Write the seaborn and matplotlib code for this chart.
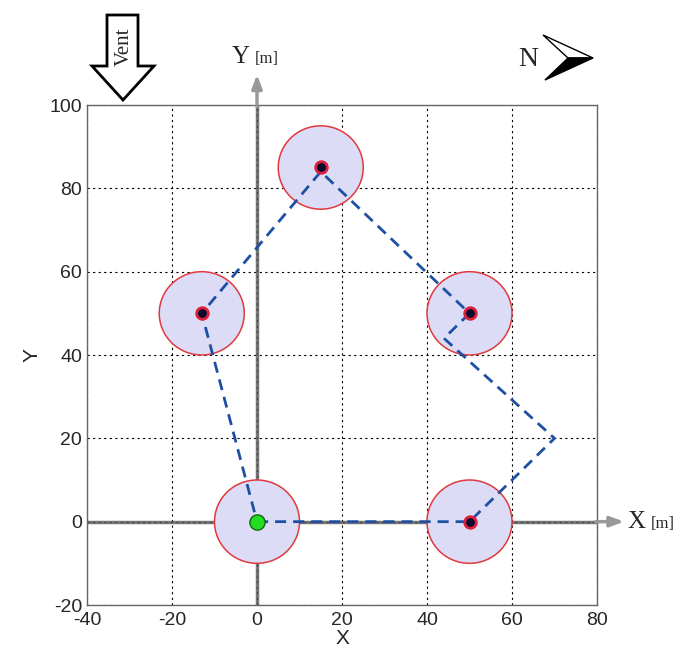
"""Trajectoire du drone entre les points de passage (vue de dessus)."""

import numpy as np
import pandas as pd
import matplotlib

matplotlib.use("Agg")
import matplotlib.pyplot as plt
from matplotlib.patches import Circle, Polygon
import seaborn as sns

# points de passage et zone de tolerance (rayon en m)
wp_x = [0, 50, 50, 15, -13]
wp_y = [0, 0, 50, 85, 50]
wp_radius = 10

# trajectoire suivie
path_x = [0, 50, 70, 44, 50, 15, -13, 0]
path_y = [0, 0, 20, 44, 50, 84, 50, 0]

x_ticks = [-40, -20, 0, 20, 40, 60, 80]
y_ticks = [-20, 0, 20, 40, 60, 80, 100]

sns.set_style("white")
plt.rcParams["font.family"] = ["Liberation Sans", "DejaVu Sans"]
plt.rcParams["axes.unicode_minus"] = False

fig = plt.figure(figsize=(6.81, 6.55), dpi=100)
W, H = 681, 655
ax = fig.add_axes([87 / W, 1 - 605 / H, 510 / W, 500 / H])


def fig_xy(px, py):
    return (px / W, 1 - py / H)


# cercles de tolerance
for cx, cy in zip(wp_x, wp_y):
    ax.add_patch(Circle((cx, cy), wp_radius, facecolor="#dcdcf7",
                        edgecolor="#e0393e", lw=1.1, zorder=2))

ax.grid(True, color="black", linestyle=(0, (2, 3)), linewidth=0.8)
ax.set_axisbelow(True)

# axes du repere avec fleches
ax.axvline(0, color="#555555", lw=2.5, alpha=0.8, zorder=1.5)
ax.axhline(0, color="#555555", lw=2.5, alpha=0.8, zorder=1.5)
ax.annotate("", xy=(0, 108), xytext=(0, 99), annotation_clip=False,
            arrowprops=dict(arrowstyle="-|>,head_length=0.8,head_width=0.3",
                            color="#999999", lw=2.5))
ax.annotate("", xy=(87, 0), xytext=(79, 0), annotation_clip=False,
            arrowprops=dict(arrowstyle="-|>,head_length=0.8,head_width=0.3",
                            color="#999999", lw=2.5))
fig.text(*fig_xy(232, 57), "Y", fontsize=18, family="Liberation Serif", ha="left", va="center")
fig.text(*fig_xy(255, 59), "[m]", fontsize=12, family="Liberation Serif", ha="left", va="center")
fig.text(*fig_xy(627, 522), "X", fontsize=18, family="Liberation Serif", ha="left", va="center")
fig.text(*fig_xy(651, 524), "[m]", fontsize=12, family="Liberation Serif", ha="left", va="center")

df_path = pd.DataFrame({"x": path_x, "y": path_y})
sns.lineplot(data=df_path, x="x", y="y", sort=False, estimator=None, ax=ax,
             color="#1d4fa3", lw=2, linestyle=(0, (4, 2.5)), zorder=4)

df_wp = pd.DataFrame({"x": wp_x[1:], "y": wp_y[1:]})
sns.scatterplot(data=df_wp, x="x", y="y", ax=ax, s=70, color="#0a0a30",
                edgecolor="#e0203a", linewidth=2, zorder=5)
sns.scatterplot(x=wp_x[:1], y=wp_y[:1], ax=ax, s=120, color="#22dd22",
                edgecolor="#116611", linewidth=1, zorder=6)

ax.set_xlim(-40, 80)
ax.set_ylim(-20, 100)
ax.set_xticks(x_ticks)
ax.set_yticks(y_ticks)
ax.tick_params(direction="in", length=4, labelsize=14, color="#444444")
ax.tick_params(axis="x", pad=5)
ax.set_xlabel("X", fontsize=15, labelpad=0)
ax.set_ylabel("Y", fontsize=15, labelpad=6)
for s in ax.spines.values():
    s.set_color("#666666")
    s.set_linewidth(1)

# fleche du vent
vent = [(107, 15), (138, 15), (138, 66), (154, 66), (123, 100), (92, 66), (107, 66)]
fig.add_artist(Polygon([fig_xy(*p) for p in vent], closed=True, facecolor="white",
                       edgecolor="black", lw=2, transform=fig.transFigure))
fig.text(*fig_xy(124, 47), "Vent", rotation=90, fontsize=15, family="Liberation Serif",
         ha="center", va="center")

# nord
fig.text(*fig_xy(528, 60), "N", fontsize=20, family="Liberation Serif",
         ha="center", va="center")
top = [(543, 35), (593, 58), (568, 58)]
bottom = [(568, 58), (593, 58), (545, 80)]
fig.add_artist(Polygon([fig_xy(*p) for p in top], closed=True, facecolor="white",
                       edgecolor="black", lw=1, transform=fig.transFigure))
fig.add_artist(Polygon([fig_xy(*p) for p in bottom], closed=True, facecolor="black",
                       edgecolor="black", lw=1, transform=fig.transFigure))

fig.savefig("out.png", dpi=100)
plt.close(fig)
